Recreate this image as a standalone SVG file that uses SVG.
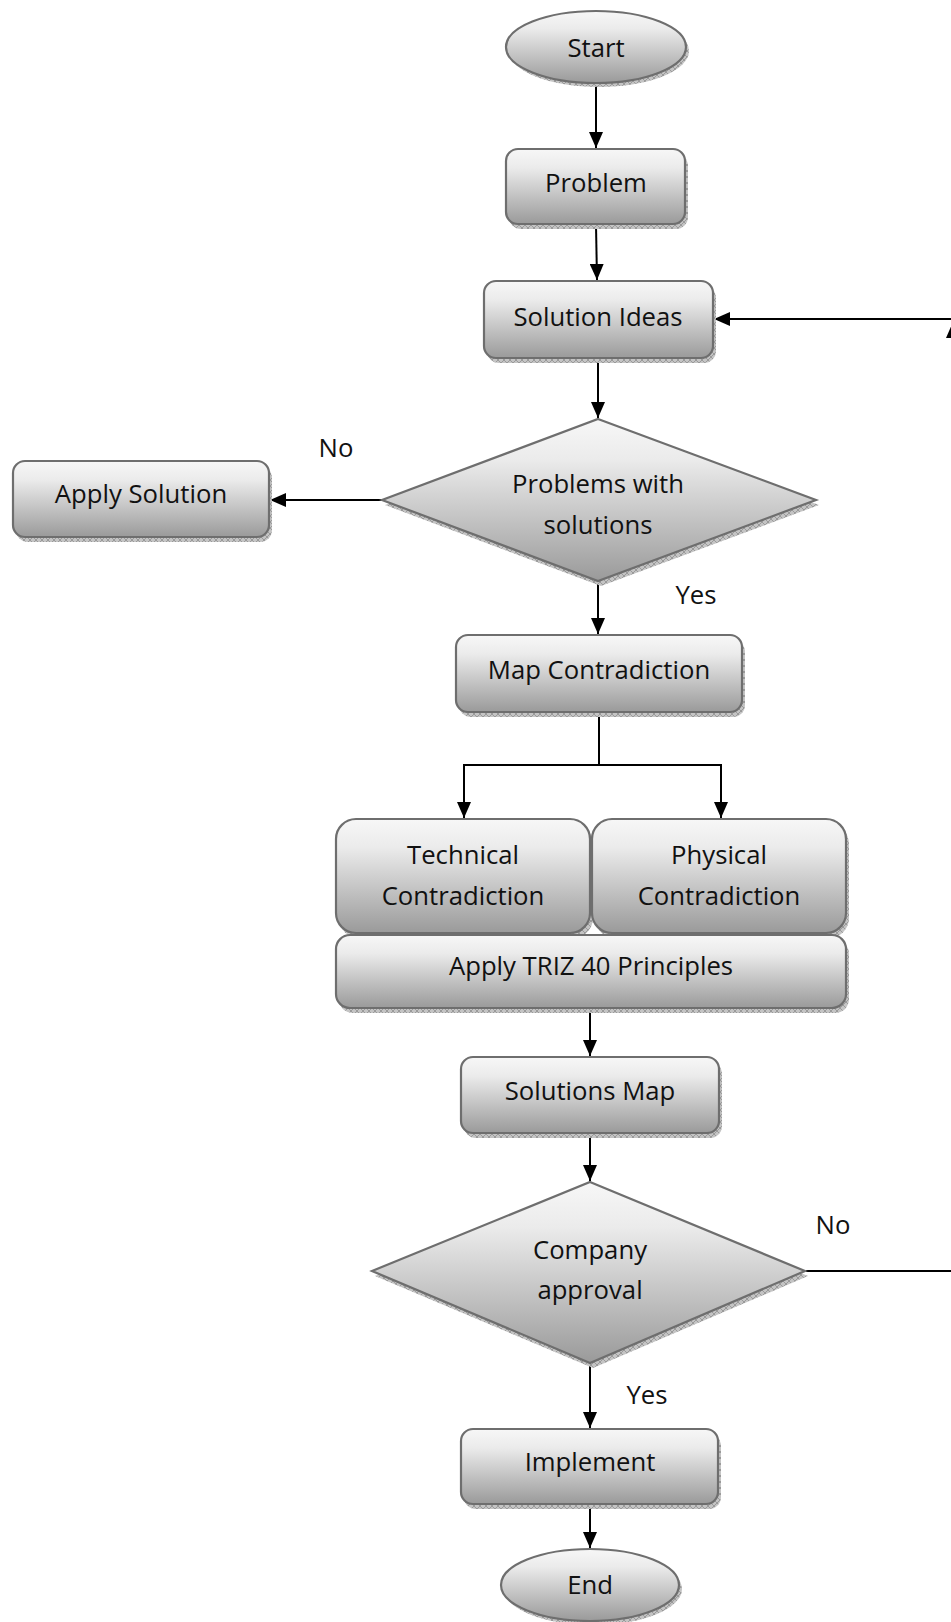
<svg xmlns="http://www.w3.org/2000/svg" width="951" height="1622" viewBox="0 0 951 1622">
<defs>
<linearGradient id="g" x1="0" y1="0" x2="0" y2="1">
<stop offset="0" stop-color="#f7f7f7"/>
<stop offset="0.25" stop-color="#ebebeb"/>
<stop offset="1" stop-color="#9a9a9a"/>
</linearGradient>
<pattern id="hatch" width="6" height="6" patternUnits="userSpaceOnUse">
<rect width="6" height="6" fill="#c4c4c4"/>
<path d="M0 0 L6 6 M6 0 L0 6" stroke="#8f8f8f" stroke-width="0.8"/>
</pattern>
<marker id="ah" viewBox="0 0 16 14" refX="16" refY="7" markerWidth="16" markerHeight="14" markerUnits="userSpaceOnUse" orient="auto">
<path d="M0 0 L16 7 L0 14 Z" fill="#000"/>
</marker>
</defs>
<style>
.sh{fill:url(#hatch);stroke:none}
.nd{fill:url(#g);stroke:#6e6e6e;stroke-width:2.2}
.t{font-family:'Open Sans','Noto Sans','DejaVu Sans',sans-serif;font-size:25.7px;fill:#111;text-anchor:middle}
.c{fill:none;stroke:#000;stroke-width:2}
.ca{fill:none;stroke:#000;stroke-width:2;marker-end:url(#ah)}
</style>
<rect width="951" height="1622" fill="#fff"/>

<g id="connectors">
<line class="ca" x1="596" y1="84" x2="596" y2="148"/>
<line class="ca" x1="596" y1="225" x2="597" y2="280"/>
<line class="ca" x1="598" y1="359" x2="598" y2="418"/>
<line class="ca" x1="382" y1="500" x2="270" y2="500"/>
<line class="ca" x1="598" y1="582" x2="598" y2="634"/>
<path class="c" d="M599 713 V765"/>
<path class="ca" d="M599 765 H464 V818"/>
<path class="ca" d="M599 765 H721 V818"/>
<line class="ca" x1="590" y1="1009" x2="590" y2="1056"/>
<line class="ca" x1="590" y1="1134" x2="590" y2="1181"/>
<line class="ca" x1="590" y1="1364" x2="590" y2="1428"/>
<line class="ca" x1="590" y1="1505" x2="590" y2="1548"/>
<line class="c" x1="806" y1="1271" x2="955" y2="1271"/>
<line class="ca" x1="955" y1="319" x2="714" y2="319"/>
<polygon points="953,322 946,338 960,338" fill="#000"/>
<text class="t" x="336" y="457">No</text>
<text class="t" x="696" y="604">Yes</text>
<text class="t" x="833" y="1234">No</text>
<text class="t" x="647" y="1404">Yes</text>
</g>

<g id="start">
<ellipse class="sh" cx="599" cy="51" rx="90" ry="36"/>
<ellipse class="nd" cx="596" cy="47" rx="90" ry="36"/>
<text class="t" x="596" y="57">Start</text>
</g>
<g id="problem">
<rect class="sh" x="509" y="154" width="179" height="75" rx="12"/>
<rect class="nd" x="506" y="149" width="179" height="75" rx="12"/>
<text class="t" x="596" y="192">Problem</text>
</g>
<g id="solution-ideas">
<rect class="sh" x="487" y="286" width="229" height="77" rx="12"/>
<rect class="nd" x="484" y="281" width="229" height="77" rx="12"/>
<text class="t" x="598" y="326">Solution Ideas</text>
</g>
<g id="problems-with-solutions">
<polygon class="sh" points="601,424 819,505 601,586 385,505"/>
<polygon class="nd" points="598,419 816,500 598,581 382,500"/>
<text class="t" x="598" y="493">Problems with</text>
<text class="t" x="598" y="534">solutions</text>
</g>
<g id="apply-solution">
<rect class="sh" x="16" y="466" width="256" height="76" rx="12"/>
<rect class="nd" x="13" y="461" width="256" height="76" rx="12"/>
<text class="t" x="141" y="503">Apply Solution</text>
</g>
<g id="map-contradiction">
<rect class="sh" x="459" y="640" width="286" height="77" rx="12"/>
<rect class="nd" x="456" y="635" width="286" height="77" rx="12"/>
<text class="t" x="599" y="679">Map Contradiction</text>
</g>
<g id="technical">
<rect class="sh" x="339" y="824" width="254" height="114" rx="20"/>
<rect class="nd" x="336" y="819" width="254" height="114" rx="20"/>
<text class="t" x="463" y="864">Technical</text>
<text class="t" x="463" y="905">Contradiction</text>
</g>
<g id="physical">
<rect class="sh" x="595" y="824" width="254" height="114" rx="20"/>
<rect class="nd" x="592" y="819" width="254" height="114" rx="20"/>
<text class="t" x="719" y="864">Physical</text>
<text class="t" x="719" y="905">Contradiction</text>
</g>
<g id="triz">
<rect class="sh" x="339" y="940" width="510" height="73" rx="14"/>
<rect class="nd" x="336" y="935" width="510" height="73" rx="14"/>
<text class="t" x="591" y="975">Apply TRIZ 40 Principles</text>
</g>
<g id="solutions-map">
<rect class="sh" x="464" y="1062" width="258" height="76" rx="12"/>
<rect class="nd" x="461" y="1057" width="258" height="76" rx="12"/>
<text class="t" x="590" y="1100">Solutions Map</text>
</g>
<g id="company-approval">
<polygon class="sh" points="593,1187 808,1276 593,1368 375,1276"/>
<polygon class="nd" points="590,1182 805,1271 590,1363 372,1271"/>
<text class="t" x="590" y="1259">Company</text>
<text class="t" x="590" y="1299">approval</text>
</g>
<g id="implement">
<rect class="sh" x="464" y="1434" width="257" height="75" rx="12"/>
<rect class="nd" x="461" y="1429" width="257" height="75" rx="12"/>
<text class="t" x="590" y="1471">Implement</text>
</g>
<g id="end">
<ellipse class="sh" cx="593" cy="1589" rx="89" ry="36"/>
<ellipse class="nd" cx="590" cy="1585" rx="89" ry="36"/>
<text class="t" x="590" y="1594">End</text>
</g>
</svg>
